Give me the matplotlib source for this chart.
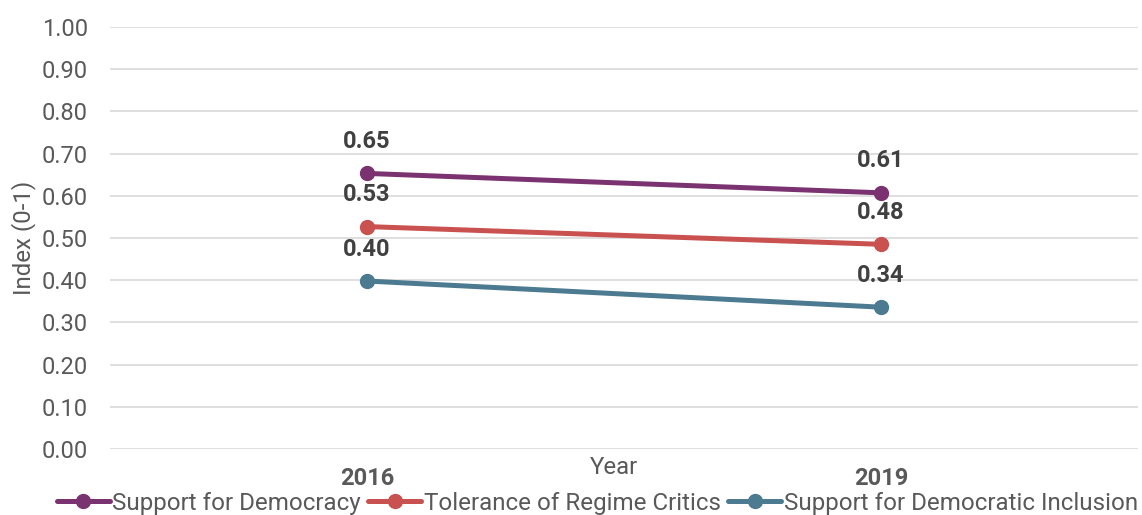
import matplotlib.pyplot as plt

plt.rcParams['font.family'] = ['Roboto', 'DejaVu Sans']

years = ['2016', '2019']
support_democracy = [0.653, 0.607]
tolerance_critics = [0.527, 0.485]
support_inclusion = [0.398, 0.336]

series = [
    ('Support for Democracy', support_democracy, '#7A3370'),
    ('Tolerance of Regime Critics', tolerance_critics, '#C9514F'),
    ('Support for Democratic Inclusion', support_inclusion, '#4B7A91'),
]

fig = plt.figure(figsize=(11.42, 5.15), dpi=100)
ax = fig.add_axes([0.0963, 0.1282, 0.9002, 0.8194])

x = list(range(len(years)))
for name, vals, col in series:
    ax.plot(x, vals, color=col, linewidth=3.6, marker='o', markersize=10,
            label=name, solid_capstyle='round')
    for xi, v in zip(x, vals):
        ax.annotate('%.2f' % v, (xi, v), xytext=(0, 23), textcoords='offset points',
                    ha='center', va='center', fontsize=17, fontweight='bold',
                    color='#404040')

ax.set_xlim(-0.5, 1.5)
ax.set_ylim(0, 1.0)
ax.set_yticks([i / 10 for i in range(11)])
ax.set_yticklabels(['%.2f' % (i / 10) for i in range(11)])
ax.set_xticks(x)
ax.set_xticklabels(years, fontweight='bold')

ax.grid(axis='y', color='#d9d9d9', linewidth=1.2)
ax.set_axisbelow(True)
for s in ax.spines.values():
    s.set_visible(False)
ax.tick_params(axis='y', length=0, pad=16, labelsize=17, labelcolor='#595959')
ax.tick_params(axis='x', length=0, pad=13, labelsize=17, labelcolor='#595959')

ax.set_ylabel('Index (0-1)', fontsize=17.3, color='#595959', labelpad=4)
ax.text(0.49, -0.045, 'Year', transform=ax.transAxes, ha='center', va='center',
        fontsize=17.3, color='#595959')

fig.legend(loc='center', bbox_to_anchor=(0.523, 0.0233), ncol=3, frameon=False,
           fontsize=17.4, labelcolor='#595959', handlelength=2.2, handletextpad=0.1,
           columnspacing=0.3, borderaxespad=0, borderpad=0)

fig.savefig('out.png', dpi=100)
